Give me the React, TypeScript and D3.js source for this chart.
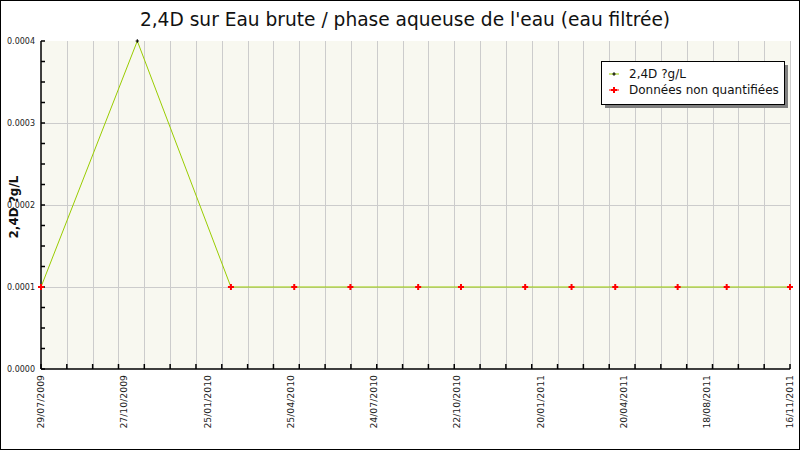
import * as d3 from 'd3';
import { useEffect, useRef } from 'react';

// Sampling dates and measured values (µg/L)
const sampleDates = [
  '2009-07-29', '2009-11-14', '2010-02-27', '2010-05-09', '2010-07-11', '2010-09-25',
  '2010-11-12', '2011-01-23', '2011-03-16', '2011-05-04', '2011-07-13', '2011-09-06', '2011-11-16',
];
const sampleValues = [
  0.0001, 0.0004, 0.0001, 0.0001, 0.0001, 0.0001,
  0.0001, 0.0001, 0.0001, 0.0001, 0.0001, 0.0001, 0.0001,
];
// true = quantified, false = "Données non quantifiées"
const quantified = [
  false, true, false, false, false, false,
  false, false, false, false, false, false, false,
];

const xTickLabels = [
  '29/07/2009', '27/10/2009', '25/01/2010', '25/04/2010', '24/07/2010',
  '22/10/2010', '20/01/2011', '20/04/2011', '18/08/2011', '16/11/2011',
];
const yTicks = [0, 0.0001, 0.0002, 0.0003, 0.0004];

const TITLE = "2,4D sur Eau brute / phase aqueuse de l'eau (eau filtrée)";
const Y_LABEL = '2,4D ?g/L';
const LEGEND = ['2,4D ?g/L', 'Données non quantifiées'];

export default function App() {
  const ref = useRef<SVGSVGElement>(null);

  useEffect(() => {
    document.body.style.margin = '0';
    const svg = d3.select(ref.current);
    svg.selectAll('*').remove();

    const W = 800;
    const H = 450;
    const M = { left: 41, top: 41, right: 10, bottom: 81 };
    const font = 'DejaVu Sans, sans-serif';

    const parse = d3.timeParse('%Y-%m-%d');
    const dates = sampleDates.map((d) => parse(d));
    const x = d3.scaleTime().domain([dates[0], dates[dates.length - 1]]).range([M.left, W - M.right]);
    const y = d3.scaleLinear().domain([0, 0.0004]).range([H - M.bottom, M.top]);

    const [t0, t1] = x.domain().map((d) => d.getTime());
    const minorDates = d3.range(30).map((i) => new Date(t0 + (i * (t1 - t0)) / 29));
    const labelDates = xTickLabels.map((_, i) => new Date(t0 + (i * (t1 - t0)) / (xTickLabels.length - 1)));

    // frame
    svg.append('rect').attr('x', 0.5).attr('y', 0.5).attr('width', W - 1).attr('height', H - 1)
      .attr('fill', 'white').attr('stroke', 'black');

    // title
    svg.append('text').attr('x', 405).attr('y', 26).attr('text-anchor', 'middle')
      .attr('font-family', font).attr('font-size', 18.6).attr('fill', '#111').text(TITLE);

    // plot background
    svg.append('rect').attr('x', M.left).attr('y', M.top)
      .attr('width', x.range()[1] - M.left).attr('height', y(0) - M.top).attr('fill', '#f8f8f0');

    // grid
    const grid = svg.append('g').attr('stroke', '#cccccc').attr('stroke-width', 1);
    grid.selectAll('line.v').data(minorDates.slice(1)).join('line')
      .attr('x1', (d) => Math.round(x(d)) + 0.5).attr('x2', (d) => Math.round(x(d)) + 0.5)
      .attr('y1', M.top).attr('y2', y(0));
    grid.selectAll('line.h').data(yTicks.slice(1, -1)).join('line')
      .attr('class', 'h')
      .attr('x1', M.left).attr('x2', x.range()[1])
      .attr('y1', (d) => Math.round(y(d)) + 0.5).attr('y2', (d) => Math.round(y(d)) + 0.5);

    // axes
    const axes = svg.append('g').attr('stroke', 'black').attr('stroke-width', 1.5);
    axes.append('line').attr('x1', M.left).attr('x2', M.left).attr('y1', M.top).attr('y2', y(0));
    axes.append('line').attr('x1', M.left).attr('x2', x.range()[1]).attr('y1', y(0)).attr('y2', y(0));
    const yMinor = d3.range(17).map((i) => (i * 0.0004) / 16);
    axes.selectAll('line.yt').data(yMinor).join('line').attr('class', 'yt')
      .attr('x1', M.left).attr('x2', M.left + 4)
      .attr('y1', (d) => y(d)).attr('y2', (d) => y(d));
    axes.selectAll('line.xt').data(minorDates).join('line').attr('class', 'xt')
      .attr('x1', (d) => x(d)).attr('x2', (d) => x(d))
      .attr('y1', y(0)).attr('y2', y(0) - 5);

    // y tick labels
    svg.append('g').selectAll('text').data(yTicks).join('text')
      .attr('x', M.left - 6).attr('y', (d) => y(d)).attr('dy', '0.32em')
      .attr('text-anchor', 'end').attr('font-family', font).attr('font-size', 8).attr('fill', '#222')
      .text((d) => d3.format('.4f')(d));

    // x tick labels
    svg.append('g').selectAll('text').data(labelDates).join('text')
      .attr('transform', (d) => `translate(${x(d)},${y(0) + 6}) rotate(-90)`)
      .attr('dy', '0.35em').attr('text-anchor', 'end')
      .attr('font-family', font).attr('font-size', 9.3).attr('fill', '#222')
      .text((_, i) => xTickLabels[i]);

    // y axis title
    svg.append('text').attr('transform', `translate(18,207) rotate(-90)`)
      .attr('text-anchor', 'middle').attr('font-family', font).attr('font-size', 12)
      .attr('font-weight', 'bold').attr('fill', '#111').text(Y_LABEL);

    // series line
    const pts = dates.map((d, i) => [x(d), y(sampleValues[i])] as [number, number]);
    svg.append('path').attr('d', d3.line()(pts)).attr('fill', 'none')
      .attr('stroke', '#99cc00').attr('stroke-width', 1);

    const cross = d3.symbol().type(d3.symbolCross);
    svg.append('g').selectAll('path').data(pts).join('path')
      .attr('transform', (d) => `translate(${d[0]},${d[1]})`)
      .attr('d', (_, i) => cross.size(quantified[i] ? 6 : 20)())
      .attr('fill', (_, i) => (quantified[i] ? 'black' : 'red'));

    // legend
    const lg = svg.append('g').attr('transform', 'translate(601,61)');
    lg.append('rect').attr('x', 4).attr('y', 4).attr('width', 183).attr('height', 43).attr('fill', '#808080');
    lg.append('rect').attr('x', 0.5).attr('y', 0.5).attr('width', 183).attr('height', 43)
      .attr('fill', 'white').attr('stroke', 'black');
    const items = lg.selectAll('g').data(LEGEND).join('g')
      .attr('transform', (_, i) => `translate(0,${13 + i * 16})`);
    items.append('line').attr('x1', 8).attr('x2', 18).attr('y1', 0).attr('y2', 0)
      .attr('stroke', (_, i) => (i === 0 ? '#99cc00' : 'red'));
    items.append('path').attr('transform', 'translate(13,0)')
      .attr('d', (_, i) => cross.size(i === 0 ? 6 : 20)())
      .attr('fill', (_, i) => (i === 0 ? 'black' : 'red'));
    items.append('text').attr('x', 28).attr('dy', '0.35em')
      .attr('font-family', font).attr('font-size', 12).attr('fill', '#111').text((d) => d);
  }, []);

  return <svg ref={ref} width={800} height={450} style={{ display: 'block' }} />;
}
